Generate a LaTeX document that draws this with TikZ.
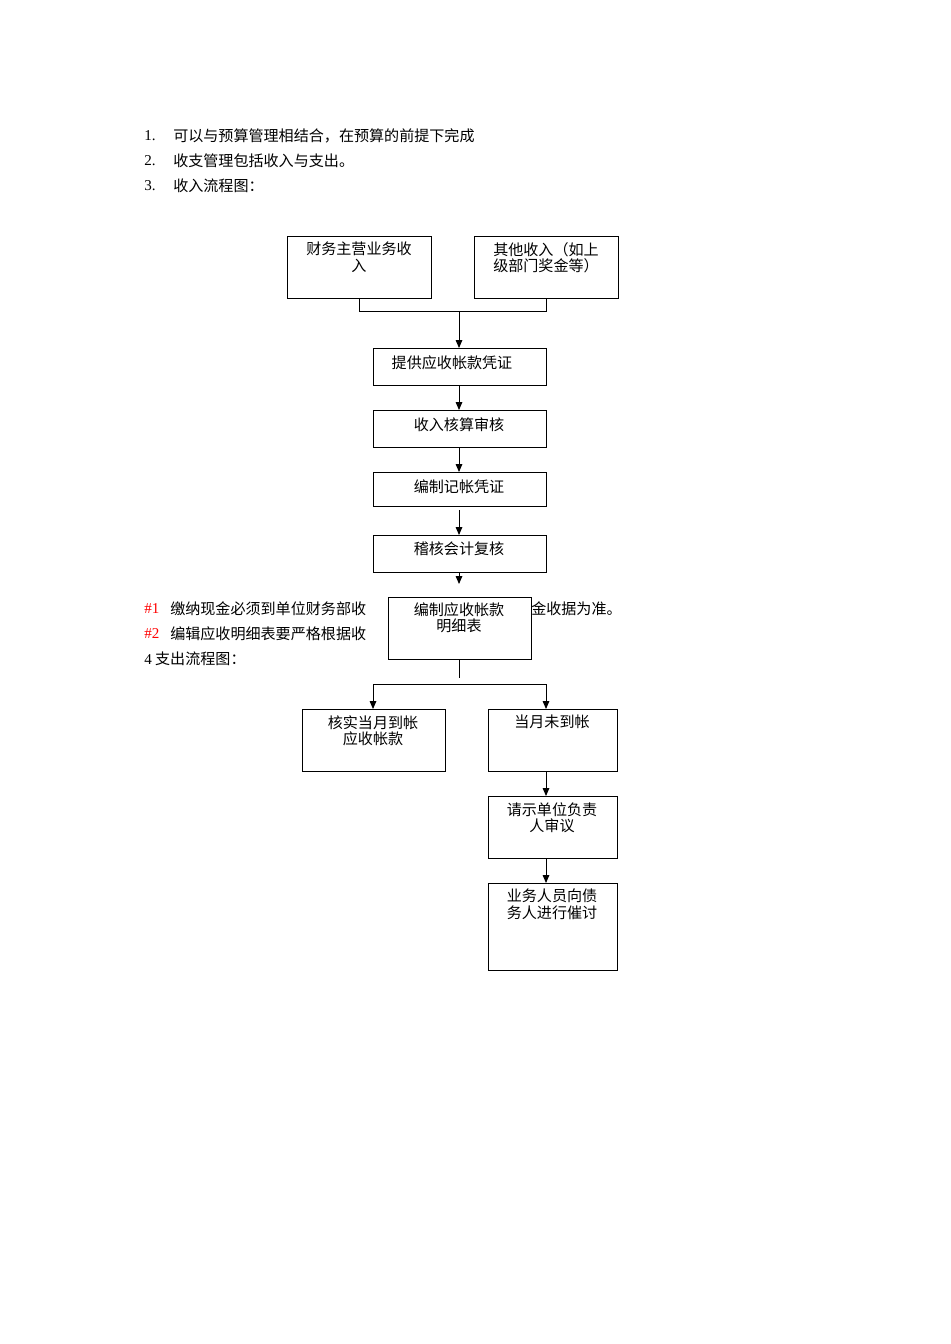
\documentclass[tikz,border=0pt]{standalone}
\usepackage{fontspec}
\setmainfont{Liberation Serif}
\newfontfamily\cjk{Noto Sans CJK SC}
\usetikzlibrary{arrows.meta}
\begin{document}
\begin{tikzpicture}[x=0.75pt,y=-0.75pt,font=\cjk\fontsize{11.3}{13}\selectfont,
  bx/.style={draw,fill=white,line width=0.7pt},
  tx/.style={anchor=north,align=center,inner sep=0pt,font=\cjk\fontsize{11.3}{12.5}\selectfont},
  ln/.style={line width=0.7pt},
  ar/.style={line width=0.7pt,-{Triangle[length=6pt,width=5pt]}},
  lt/.style={anchor=west,inner sep=0pt}]
\path[fill=white] (0,0) rectangle (950,1344);
\node[lt] (n1) at (144,136) {\rmfamily 1.};
\node[lt] (t1) at (173,136) {可以与预算管理相结合，在预算的前提下完成};
\node[lt] (n2) at (144,161) {\rmfamily 2.};
\node[lt] (t2) at (173,161) {收支管理包括收入与支出。};
\node[lt] (n3) at (144,186) {\rmfamily 3.};
\node[lt] (t3) at (173,186) {收入流程图：};
\node[lt,text=red] (h1) at (144,609) {\rmfamily \#1};
\node[lt] (h1a) at (170,609) {缴纳现金必须到单位财务部收};
\node[lt] (h1b) at (531,609) {金收据为准。};
\node[lt,text=red] (h2) at (144,634) {\rmfamily \#2};
\node[lt] (h2a) at (170,634) {编辑应收明细表要严格根据收};
\node[lt] (t4) at (144,659) {{\rmfamily 4} 支出流程图：};

\draw[bx] (287,236) rectangle (431,298); \node[tx] (a) at (359,242) {财务主营业务收\\入};
\draw[bx] (474,236) rectangle (618,298); \node[tx] (b) at (546,242) {其他收入（如上\\级部门奖金等）};
\coordinate (a1) at (359,298); \coordinate (b1) at (546,298);
\draw[ln] (a1) -- (359,311) -- (546,311) -- (b1);
\coordinate (m1) at (459,311);
\draw[bx] (373,348) rectangle (546,385); \node[tx] (c) at (452,355) {提供应收帐款凭证};
\draw[ar] (m1) -- (459,348);
\draw[bx] (373,410) rectangle (546,447); \node[tx] (d) at (459,417) {收入核算审核};
\draw[ar] (459,385) -- (459,410);
\draw[bx] (373,472) rectangle (546,506); \node[tx] (e) at (459,479) {编制记帐凭证};
\draw[ar] (459,510) -- (459,535);
\draw[ar] (459,447) -- (459,472);
\draw[bx] (373,535) rectangle (546,572); \node[tx] (f) at (459,542) {稽核会计复核};
\draw[ar] (459,572) -- (459,584);
\draw[bx] (388,597) rectangle (531,659); \node[tx] (g) at (459,602) {编制应收帐款\\明细表};
\draw[ln] (459,659) -- (459,678);
\draw[ln] (373,684) -- (546,684);
\draw[ar] (373,684) -- (373,709);
\draw[ar] (546,684) -- (546,709);
\draw[bx] (302,709) rectangle (445,771); \node[tx] (h) at (373,715) {核实当月到帐\\应收帐款};
\draw[bx] (488,709) rectangle (617,771); \node[tx] (i) at (552,715) {当月未到帐};
\draw[ar] (546,771) -- (546,796);
\draw[bx] (488,796) rectangle (617,858); \node[tx] (j) at (552,802) {请示单位负责\\人审议};
\draw[ar] (546,858) -- (546,883);
\draw[bx] (488,883) rectangle (617,970); \node[tx] (k) at (552,889) {业务人员向债\\务人进行催讨};
\end{tikzpicture}
\end{document}
